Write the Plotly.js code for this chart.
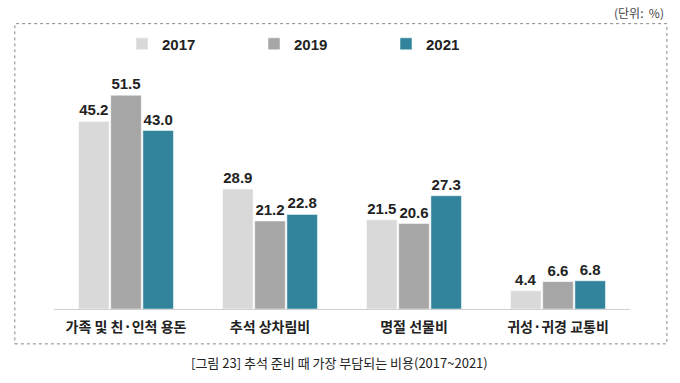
<!DOCTYPE html>
<html><head><meta charset="utf-8">
<script src="https://cdn.plot.ly/plotly-3.0.1.min.js"></script>
<style>body{margin:0;background:#fff}#c{width:680px;height:383px}</style>
</head><body><div id="c"></div>
<script>
const categories = ["가족 및 친·인척 용돈", "추석 상차림비", "명절 선물비", "귀성·귀경 교통비"];
const years = ["2017", "2019", "2021"];
const v2017 = [45.2, 28.9, 21.5, 4.4];
const v2019 = [51.5, 21.2, 20.6, 6.6];
const v2021 = [43.0, 22.8, 27.3, 6.8];
const colors = ["#d9d9d9", "#a6a6a6", "#31849b"];
const font = "'Noto Sans CJK KR', 'Noto Sans', sans-serif";
const numFont = "'Liberation Sans', Arial, sans-serif";
const series = [v2017, v2019, v2021];
const traces = series.map((vals, i) => ({
  type: "bar", name: years[i], x: categories, y: vals,
  text: vals.map(v => v.toFixed(1)), textposition: "outside",
  textfont: {family: numFont, size: 15, color: "#222", weight: "bold"},
  marker: {color: colors[i], line: {color: "#fff", width: 0.5}},
  cliponaxis: false
}));
const layout = {
  width: 680, height: 383,
  margin: {l: 54, r: 50, t: 60, b: 74},
  paper_bgcolor: "#fff", plot_bgcolor: "#fff",
  barmode: "group", bargap: 0.33, bargroupgap: 0.05,
  showlegend: true,
  legend: {orientation: "h", x: (122 - 54) / 576, xanchor: "left", y: 1.064, yanchor: "middle",
    font: {family: numFont, size: 15, color: "#222", weight: "bold"}, itemwidth: 30,
    entrywidth: 87, entrywidthmode: "pixels", traceorder: "normal"},
  xaxis: {showgrid: false, zeroline: false, showline: true, linecolor: "#d0d0d0", linewidth: 1,
    ticks: "", ticklabelstandoff: 5,
    tickfont: {family: font, size: 14, color: "#222", weight: "bold"}, range: [-0.5, 3.5]},
  yaxis: {range: [0, 60], visible: false, showgrid: false},
  annotations: [
    {text: "(단위:  %)", xref: "paper", yref: "paper", x: 1.063, y: 1.19, xanchor: "right", yanchor: "middle",
     showarrow: false, font: {family: font, size: 12, color: "#444"}},
    {text: "[그림 23] 추석 준비 때 가장 부담되는 비용(2017~2021)", xref: "paper", yref: "paper",
     x: 0.495, y: -0.215, xanchor: "center", yanchor: "middle", showarrow: false,
     font: {family: font, size: 13, color: "#222"}}
  ],
  shapes: [
    {type: "rect", xref: "paper", yref: "paper", x0: -0.068, x1: 1.064, y0: -0.14, y1: 1.146,
     line: {color: "#888", width: 1, dash: "dot"}, fillcolor: "rgba(0,0,0,0)"}
  ]
};
Plotly.newPlot("c", traces, layout, {displayModeBar: false, staticPlot: true});
</script></body></html>
